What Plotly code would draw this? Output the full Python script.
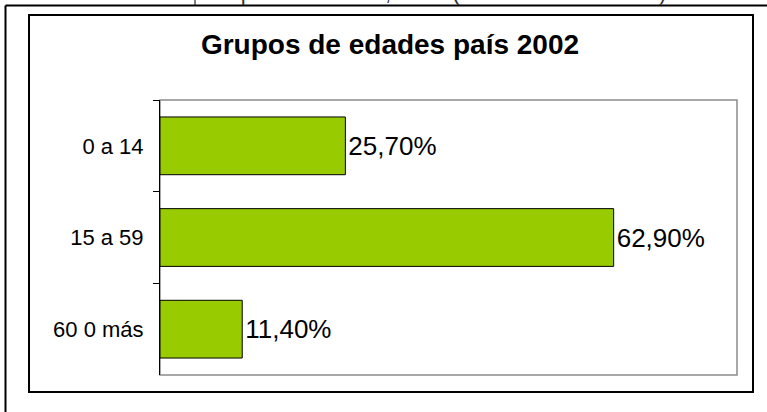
import plotly.graph_objects as go

categories = ["0 a 14", "15 a 59", "60 0 más"]
values = [25.7, 62.9, 11.4]
labels = ["25,70%", "62,90%", "11,40%"]
title_text = "Grupos de edades país 2002"
caption_left = "Gráfico 1."
caption_right = "Grupos de edades, 2002 (Fuente: Censo 2002)"

W, H = 767, 412
L, R, T, B = 160, 30, 100, 37
PW, PH = W - L - R, H - T - B


def px(x):
    return (x - L) / PW


def py(y):
    return (H - B - y) / PH


fig = go.Figure(
    go.Bar(
        y=categories,
        x=values,
        orientation="h",
        text=labels,
        textposition="outside",
        textfont=dict(family="Arial, Liberation Sans", size=26, color="black"),
        marker=dict(color="#99CC00", line=dict(color="black", width=1)),
        cliponaxis=False,
        hoverinfo="skip",
    )
)

fig.update_layout(
    width=W,
    height=H,
    autosize=False,
    margin=dict(l=L, r=R, t=T, b=B),
    paper_bgcolor="white",
    plot_bgcolor="white",
    bargap=0.37,
    showlegend=False,
    font=dict(family="Arial, Liberation Sans", color="black"),
    title=dict(
        text="<b>" + title_text + "</b>",
        font=dict(size=28, color="black"),
        x=390 / W,
        xanchor="center",
        xref="container",
        y=1 - 44 / H,
        yanchor="middle",
        yref="container",
    ),
)

fig.update_xaxes(
    range=[0, 80],
    showgrid=False,
    showticklabels=False,
    ticks="",
    zeroline=False,
    showline=False,
    fixedrange=True,
)
fig.update_yaxes(
    categoryorder="array",
    categoryarray=categories,
    autorange="reversed",
    showgrid=False,
    showline=True,
    linecolor="black",
    linewidth=1,
    ticks="outside",
    tickson="boundaries",
    ticklen=6,
    tickcolor="black",
    tickfont=dict(size=22, color="black"),
    ticklabelstandoff=11,
    zeroline=False,
    fixedrange=True,
)

shapes = [
    # plot-area frame (gray)
    dict(type="rect", xref="paper", yref="paper", x0=0, x1=1, y0=0, y1=1,
         line=dict(color="#8c8c8c", width=1.5), layer="below"),
    # inner chart box
    dict(type="rect", xref="paper", yref="paper", x0=px(29), x1=px(753), y0=py(392), y1=py(15),
         line=dict(color="black", width=2)),
    # outer page frame: top and left lines
    dict(type="line", xref="paper", yref="paper", x0=px(5.5), x1=px(770), y0=py(5.5), y1=py(5.5),
         line=dict(color="black", width=2)),
    dict(type="line", xref="paper", yref="paper", x0=px(5.5), x1=px(5.5), y0=py(5.5), y1=py(420),
         line=dict(color="black", width=2)),
    dict(type="line", xref="paper", yref="paper", x0=px(195), x1=px(195), y0=py(-5), y1=py(5.5),
         line=dict(color="black", width=1)),
]
fig.update_layout(shapes=shapes)

fig.add_annotation(
    text=caption_left, xref="paper", yref="paper", x=px(18), y=py(7),
    xanchor="left", yanchor="bottom", showarrow=False,
    font=dict(size=22, color="#333333"),
)
fig.add_annotation(
    text=caption_right, xref="paper", yref="paper", x=px(202), y=py(7),
    xanchor="left", yanchor="bottom", showarrow=False,
    font=dict(size=22, color="#333333"),
)

fig.write_html(
    "out.html",
    config={"displayModeBar": False, "staticPlot": True},
    post_script="document.body.style.margin='0';document.body.style.overflow='hidden';",
)
